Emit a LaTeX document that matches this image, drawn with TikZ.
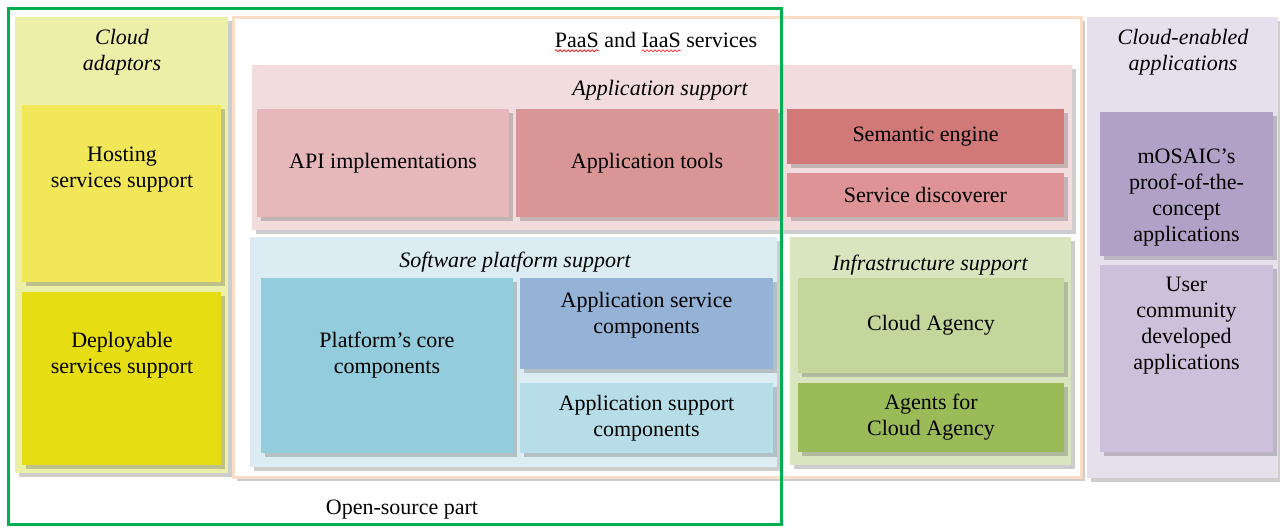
\documentclass[tikz,border=0pt]{standalone}
\usepackage{fontspec}
\setmainfont{Liberation Serif}
\usetikzlibrary{shadows, decorations.pathmorphing}

\definecolor{adaptPanel}{RGB}{236,239,167}
\definecolor{hostCol}{RGB}{241,231,88}
\definecolor{deployCol}{RGB}{230,222,18}
\definecolor{paasLine}{RGB}{250,221,198}
\definecolor{appPanel}{RGB}{242,220,221}
\definecolor{apiCol}{RGB}{230,184,186}
\definecolor{toolsCol}{RGB}{218,150,150}
\definecolor{semCol}{RGB}{209,120,120}
\definecolor{discCol}{RGB}{222,148,150}
\definecolor{swPanel}{RGB}{219,237,243}
\definecolor{coreCol}{RGB}{146,204,221}
\definecolor{svcCol}{RGB}{149,179,215}
\definecolor{supCol}{RGB}{183,222,232}
\definecolor{infraPanel}{RGB}{216,229,191}
\definecolor{agencyCol}{RGB}{195,214,155}
\definecolor{agentsCol}{RGB}{155,187,89}
\definecolor{appsPanel}{RGB}{229,224,236}
\definecolor{mosaicCol}{RGB}{178,161,199}
\definecolor{userCol}{RGB}{204,192,218}
\definecolor{openGreen}{RGB}{0,176,80}

\begin{document}
\begin{tikzpicture}[x=0.5pt, y=-0.5pt,
    every node/.style={inner sep=0pt, outer sep=0pt},
    shade/.style={drop shadow={shadow xshift=1.8pt, shadow yshift=-1.8pt, opacity=0.28, fill=black!70}},
    panel/.style={rectangle, shade},
    box/.style={rectangle, shade, align=center, font=\fontsize{11}{13}\selectfont},
    title/.style={align=center, font=\fontsize{11}{13}\selectfont\itshape},
    txt/.style={align=center, font=\fontsize{11}{13}\selectfont},
    spell/.style={red, line width=0.3pt, decorate, decoration={snake, amplitude=0.5pt, segment length=2pt}}
]
    \useasboundingbox (0,0) rectangle (1280,527);

    % Panels
    \node[panel, fill=adaptPanel, minimum width=106.5pt, minimum height=228pt] (adapt) at (121.5,245) {};
    \node[panel, fill=white, draw=paasLine, line width=1.5pt, minimum width=424pt, minimum height=230pt] (paas) at (657,247) {};
    \node[panel, fill=appsPanel, minimum width=95.5pt, minimum height=230.5pt] (apps) at (1182.5,247.5) {};
    \node[panel, fill=appPanel, minimum width=410pt, minimum height=82.5pt] (appsup) at (662,147.5) {};
    \node[panel, fill=swPanel, minimum width=263.5pt, minimum height=115pt] (sw) at (513.5,352) {};
    \node[panel, fill=infraPanel, minimum width=140.5pt, minimum height=114pt] (infra) at (930.5,351) {};

    % Panel titles
    \node[title] (adaptT) at (122,52) {Cloud\\adaptors};
    \node[txt] (paasT) at (656,40) {PaaS and IaaS services};
    \draw[spell] ([yshift=-1.5pt]paasT.south west) -- ++(44,0);
    \draw[spell] ([xshift=43.4pt, yshift=-1.5pt]paasT.south west) -- ++(39,0);
    \node[title] (appsupT) at (660,90) {Application support};
    \node[title] (swT) at (515,262) {Software platform support};
    \node[title] (infraT) at (930,265) {Infrastructure support};
    \node[title] (appsT) at (1183,52) {Cloud-enabled\\applications};

    % Cloud adaptors
    \node[box, fill=hostCol, minimum width=99.5pt, minimum height=88.5pt] (host) at (121.5,193.5) {};
    \node[txt] (hostT) at (122,170) {Hosting\\services support};
    \node[box, fill=deployCol, minimum width=99.5pt, minimum height=86.5pt] (deploy) at (121.5,378.5) {};
    \node[txt] (deployT) at (122,355) {Deployable\\services support};

    % Application support
    \node[box, fill=apiCol, minimum width=126pt, minimum height=54pt] (api) at (383,163) {API implementations};
    \node[box, fill=toolsCol, minimum width=131pt, minimum height=54pt] (tools) at (647,163) {Application tools};
    \node[box, fill=semCol, minimum width=138.5pt, minimum height=27.5pt] (sem) at (925.5,136.5) {Semantic engine};
    \node[box, fill=discCol, minimum width=138.5pt, minimum height=22pt] (disc) at (925.5,195) {Service discoverer};

    % Software platform support
    \node[box, fill=coreCol, minimum width=126pt, minimum height=87.5pt] (core) at (387,365.5) {};
    \node[txt] (coreT) at (387,355) {Platform's core\\components};
    \node[box, fill=svcCol, minimum width=126.5pt, minimum height=45.5pt] (svc) at (646.5,323.5) {};
    \node[txt] (svcT) at (646.5,315) {Application service\\components};
    \node[box, fill=supCol, minimum width=126.5pt, minimum height=35pt] (sup) at (646.5,418) {Application support\\components};

    % Infrastructure support
    \node[box, fill=agencyCol, minimum width=133pt, minimum height=47.5pt] (agency) at (931,325.5) {Cloud Agency};
    \node[box, fill=agentsCol, minimum width=133pt, minimum height=34.5pt] (agents) at (931,417.5) {Agents for\\Cloud Agency};

    % Cloud-enabled applications
    \node[box, fill=mosaicCol, minimum width=86.5pt, minimum height=72pt] (mosaic) at (1186.5,184) {};
    \node[txt] (mosaicT) at (1186.5,198) {mOSAIC's\\proof-of-the-\\concept\\applications};
    \node[box, fill=userCol, minimum width=86.5pt, minimum height=93.5pt] (user) at (1186.5,358.5) {};
    \node[txt] (userT) at (1186.5,326) {User\\community\\developed\\applications};

    % Open-source part
    \node[draw=openGreen, line width=1.5pt, minimum width=386.5pt, minimum height=258pt] (open) at (394.5,266) {};
    \node[txt] (openT) at (402,510) {Open-source part};
\end{tikzpicture}
\end{document}
